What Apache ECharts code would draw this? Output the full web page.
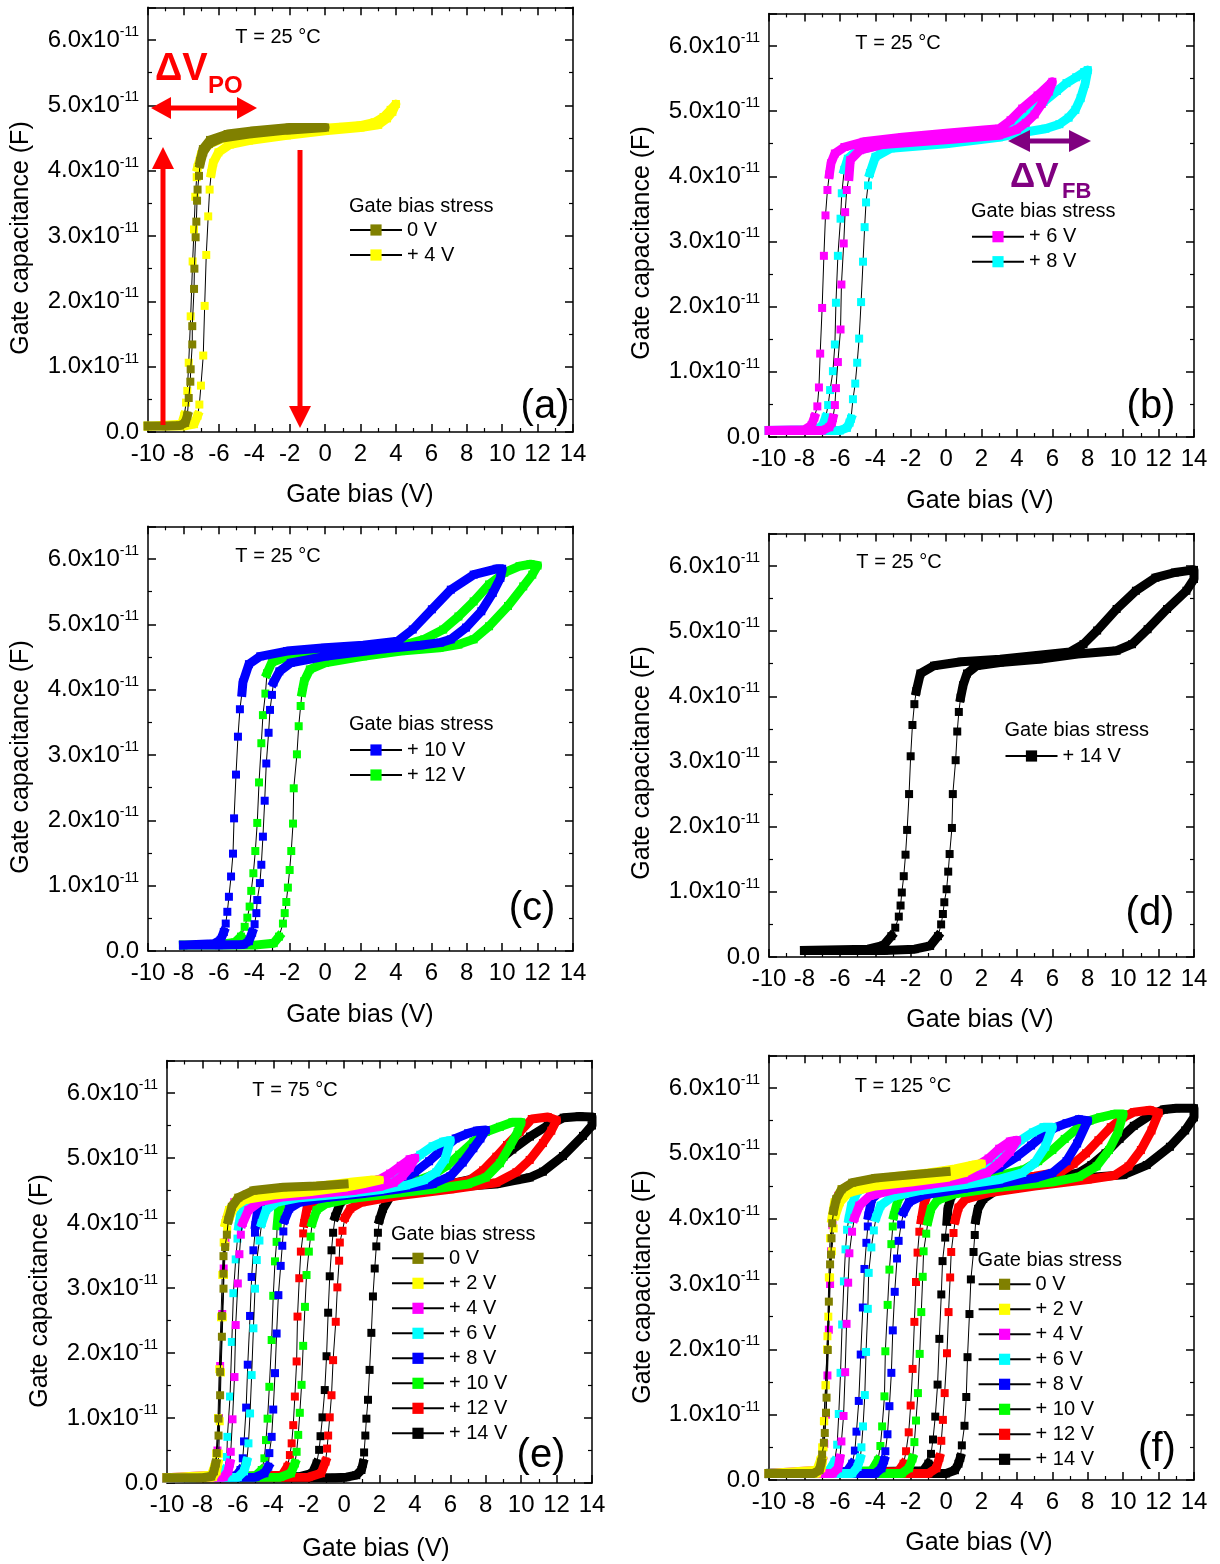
<!DOCTYPE html>
<html>
<head>
<meta charset="utf-8">
<script src="https://cdn.jsdelivr.net/npm/echarts@6/dist/echarts.min.js"></script>
<style>html,body{margin:0;padding:0;background:#fff}#chart{width:1220px;height:1564px}</style>
</head>
<body>
<div id="chart"></div>
<script>
// gate capacitance in units of 1e-11 F, gate bias in V ; each loop = sweep up then back
var a_0V = [[-10,0.09],[-9,0.09],[-8.2,0.1],[-7.9,0.14],[-7.78,0.25],[-7.7,0.52],[-7.61,0.77],[-7.59,0.96],[-7.5,1.34],[-7.5,1.62],[-7.4,2.19],[-7.38,2.5],[-7.31,2.98],[-7.27,3.22],[-7.23,3.54],[-7.2,3.71],[-7.12,3.92],[-7.05,4.11],[-6.88,4.28],[-6.56,4.41],[-5.81,4.5],[-4.3,4.56],[-2.15,4.62],[0,4.66],[-2,4.66],[-4,4.61],[-5.5,4.56],[-6.5,4.47],[-6.9,4.33],[-7.05,4.15]];
var a_4V = [[-10,0.09],[-8,0.09],[-7.4,0.12],[-7.2,0.25],[-7.1,0.42],[-7.01,0.71],[-6.88,1.17],[-6.8,1.93],[-6.71,2.71],[-6.6,3.3],[-6.52,3.71],[-6.43,3.96],[-6.32,4.12],[-6.02,4.28],[-5.38,4.4],[-4.3,4.46],[-2.15,4.54],[0,4.61],[2,4.66],[3,4.7],[3.5,4.8],[3.8,4.9],[4,5.02],[3.7,4.93],[3.3,4.82],[2.8,4.74],[2,4.69],[1,4.67],[0,4.65],[-2,4.61],[-4,4.55],[-5.8,4.49],[-6.6,4.4],[-7.0,4.25],[-7.2,4.05],[-7.25,3.9],[-7.33,3.6],[-7.4,3.1],[-7.48,2.61],[-7.59,1.77],[-7.7,1.06],[-7.78,0.63],[-7.85,0.45],[-7.95,0.25],[-8.1,0.12],[-10,0.09]];

var b_6V = [[-10,0.1],[-7,0.1],[-6.6,0.15],[-6.45,0.22],[-6.39,0.29],[-6.28,0.49],[-6.22,0.75],[-6.11,1.15],[-5.96,1.65],[-5.91,2.34],[-5.78,2.97],[-5.7,3.45],[-5.61,3.79],[-5.48,4.0],[-5.41,4.25],[-4.87,4.4],[-3.56,4.49],[0,4.56],[2.99,4.63],[4,4.72],[4.5,4.82],[5,4.95],[5.4,5.11],[5.8,5.3],[6,5.45],[5.93,5.42],[5.17,5.24],[4.3,5.04],[3.64,4.86],[2.99,4.73],[2.12,4.71],[0,4.66],[-2.47,4.6],[-4.65,4.53],[-5.74,4.45],[-6.28,4.35],[-6.5,4.2],[-6.59,4.03],[-6.7,3.79],[-6.81,3.4],[-6.9,2.78],[-7.0,1.98],[-7.11,1.28],[-7.18,0.76],[-7.27,0.47],[-7.44,0.3],[-7.6,0.18],[-8,0.11],[-10,0.1]];
var b_8V = [[-10,0.1],[-6,0.1],[-5.6,0.14],[-5.45,0.22],[-5.37,0.28],[-5.26,0.58],[-5.13,0.82],[-5.02,1.14],[-4.91,1.51],[-4.8,2.07],[-4.69,2.69],[-4.6,3.22],[-4.52,3.6],[-4.41,3.86],[-4.3,4.05],[-3.99,4.3],[-3.12,4.43],[0,4.5],[2.99,4.6],[4.08,4.66],[5.61,4.73],[6.4,4.8],[6.92,4.9],[7.3,5.02],[7.6,5.2],[7.85,5.42],[8,5.63],[7.8,5.6],[7.35,5.52],[6.8,5.43],[6.26,5.31],[5.5,5.14],[4.8,4.98],[4.2,4.83],[3.5,4.72],[2.5,4.66],[0,4.58],[-3.5,4.49],[-5,4.4],[-5.55,4.27],[-5.75,4.1],[-5.89,3.74],[-5.96,3.35],[-6.11,2.78],[-6.22,2.06],[-6.28,1.42],[-6.39,1.01],[-6.55,0.72],[-6.66,0.49],[-6.8,0.3],[-7,0.16],[-7.5,0.11],[-10,0.1]];

var c_10V = [[-8,0.09],[-6,0.09],[-4.6,0.1],[-4.3,0.15],[-4.12,0.28],[-3.98,0.41],[-3.88,0.58],[-3.83,0.78],[-3.68,1.04],[-3.6,1.32],[-3.51,1.75],[-3.41,2.3],[-3.32,2.87],[-3.19,3.34],[-3.11,3.69],[-3.0,3.92],[-2.91,4.11],[-2.58,4.28],[-1.94,4.41],[0,4.51],[3.23,4.62],[5.38,4.68],[6.5,4.72],[7.1,4.77],[7.96,4.95],[8.82,5.2],[9.47,5.48],[9.9,5.71],[10,5.85],[9.69,5.85],[8.39,5.76],[7.1,5.53],[6.03,5.23],[4.95,4.92],[4.09,4.74],[2.15,4.68],[0,4.64],[-2.15,4.59],[-3.66,4.51],[-4.3,4.39],[-4.64,4.11],[-4.69,3.96],[-4.81,3.7],[-4.92,3.28],[-5.03,2.7],[-5.14,2.03],[-5.2,1.49],[-5.31,1.14],[-5.43,0.83],[-5.52,0.6],[-5.61,0.42],[-5.72,0.29],[-5.9,0.17],[-6.3,0.11],[-8,0.09]];
var c_12V = [[-8,0.09],[-4,0.09],[-2.9,0.12],[-2.6,0.22],[-2.38,0.42],[-2.28,0.58],[-2.19,0.75],[-2.1,0.97],[-2.0,1.24],[-1.91,1.53],[-1.81,1.95],[-1.77,2.49],[-1.59,3.01],[-1.49,3.44],[-1.38,3.75],[-1.3,3.96],[-1.18,4.13],[-0.86,4.31],[0,4.41],[2.15,4.51],[4.3,4.59],[6.46,4.64],[7.53,4.69],[8.39,4.77],[9.26,4.97],[10.33,5.28],[11.19,5.58],[11.7,5.76],[12,5.9],[11.6,5.92],[10.98,5.89],[10.12,5.79],[9.26,5.61],[8.39,5.35],[7.53,5.12],[6.67,4.92],[5.6,4.77],[4.52,4.69],[2,4.63],[0,4.58],[-2,4.52],[-3,4.42],[-3.28,4.25],[-3.37,3.94],[-3.51,3.61],[-3.6,3.18],[-3.73,2.58],[-3.83,1.96],[-3.94,1.53],[-4.05,1.19],[-4.17,0.92],[-4.26,0.68],[-4.39,0.51],[-4.54,0.37],[-4.75,0.22],[-5.1,0.13],[-6,0.1],[-8,0.09]];

var d_14V = [[-8,0.1],[-3.5,0.1],[-1.78,0.12],[-0.9,0.17],[-0.46,0.32],[-0.28,0.5],[-0.18,0.66],[-0.1,0.84],[0.03,1.04],[0.12,1.31],[0.2,1.58],[0.33,1.98],[0.38,2.5],[0.54,3.02],[0.63,3.46],[0.72,3.76],[0.82,3.98],[0.96,4.17],[1.18,4.35],[1.73,4.47],[3.05,4.52],[5.24,4.57],[7.43,4.65],[9.63,4.7],[10.5,4.8],[11.38,5.03],[12.48,5.34],[13.57,5.62],[14,5.8],[14,5.94],[12.92,5.9],[11.82,5.82],[10.72,5.62],[9.63,5.34],[8.53,5.01],[7.76,4.8],[7.0,4.68],[5.24,4.63],[3.05,4.57],[0.86,4.53],[-0.68,4.47],[-1.45,4.35],[-1.68,4.08],[-1.79,3.88],[-1.9,3.56],[-2.0,3.08],[-2.09,2.5],[-2.2,1.95],[-2.29,1.57],[-2.39,1.24],[-2.5,0.99],[-2.57,0.79],[-2.67,0.62],[-2.87,0.45],[-3.09,0.32],[-3.53,0.18],[-4.41,0.12],[-8,0.1]];

var e_0V = [[-10,0.08],[-8,0.08],[-7.5,0.1],[-7.35,0.18],[-7.25,0.3],[-7.19,0.46],[-7.09,0.73],[-7.09,0.99],[-7.0,1.35],[-7.0,1.71],[-6.9,2.25],[-6.9,2.57],[-6.81,2.99],[-6.81,3.22],[-6.81,3.49],[-6.72,3.63],[-6.62,3.82],[-6.53,4.05],[-6.34,4.25],[-5.97,4.39],[-5.12,4.5],[-3.43,4.55],[-1.56,4.57],[0,4.6]];
var e_2V = [[-10,0.08],[-7.4,0.09],[-7.2,0.18],[-7.12,0.3],[-7.08,0.45],[-7.02,0.95],[-6.95,1.7],[-6.85,2.55],[-6.78,3.2],[-6.7,3.65],[-6.6,3.9],[-6.45,4.1],[-6.2,4.25],[-5.6,4.36],[-4,4.43],[-2,4.48],[0,4.55],[1,4.6],[2,4.66],[1.5,4.66],[0.5,4.63],[-1,4.58],[-3,4.53],[-5,4.47],[-6,4.38],[-6.5,4.2],[-6.7,4.0],[-6.8,3.7],[-6.88,3.2],[-6.95,2.55],[-7.05,1.75],[-7.12,1.0],[-7.22,0.45],[-7.32,0.25],[-7.5,0.12],[-10,0.08]];
var e_4V = [[-10,0.08],[-6.8,0.09],[-6.55,0.18],[-6.45,0.3],[-6.4,0.48],[-6.3,0.98],[-6.19,1.63],[-6.12,2.43],[-6.0,3.07],[-5.91,3.52],[-5.83,3.82],[-5.72,4.0],[-5.4,4.2],[-4.75,4.33],[-3.5,4.4],[-1.5,4.45],[0.5,4.5],[2,4.56],[2.8,4.62],[3.3,4.72],[3.7,4.85],[4,5.0],[3.7,4.98],[3.2,4.88],[2.6,4.76],[2,4.67],[1,4.61],[0,4.58],[-2,4.54],[-4,4.5],[-5.5,4.44],[-6.2,4.32],[-6.55,4.12],[-6.7,3.7],[-6.8,3.3],[-6.88,2.6],[-7.0,1.8],[-7.07,1.0],[-7.15,0.5],[-7.25,0.28],[-7.45,0.12],[-10,0.08]];
var e_6V = [[-10,0.08],[-6,0.09],[-5.65,0.18],[-5.5,0.33],[-5.4,0.61],[-5.31,1.07],[-5.22,1.66],[-5.12,2.38],[-5.03,2.99],[-4.93,3.43],[-4.78,3.73],[-4.65,4.0],[-4.4,4.2],[-3.8,4.32],[-2.5,4.39],[0,4.45],[2,4.51],[3.5,4.58],[4.5,4.66],[5.2,4.78],[5.7,4.98],[6,5.27],[5.6,5.25],[5,5.18],[4.3,5.05],[3.7,4.9],[3,4.75],[2.3,4.65],[1,4.58],[-1,4.53],[-3,4.48],[-4.5,4.43],[-5.4,4.33],[-5.85,4.12],[-5.95,3.95],[-6.02,3.76],[-6.12,3.44],[-6.25,2.92],[-6.34,2.17],[-6.44,1.33],[-6.59,0.71],[-6.62,0.4],[-6.75,0.2],[-7,0.11],[-10,0.08]];
var e_8V = [[-10,0.08],[-5,0.09],[-4.5,0.15],[-4.28,0.25],[-4.22,0.46],[-4.09,0.71],[-4.0,1.13],[-3.9,1.69],[-3.81,2.3],[-3.71,2.89],[-3.58,3.34],[-3.49,3.65],[-3.43,3.87],[-3.35,4.05],[-3.1,4.22],[-2.5,4.32],[-1,4.39],[1,4.45],[3,4.52],[5,4.6],[6,4.72],[6.7,4.93],[7.3,5.15],[7.7,5.3],[8,5.43],[7.5,5.42],[7,5.38],[6.3,5.3],[5.5,5.12],[4.8,4.95],[4,4.78],[3.2,4.66],[2,4.59],[0,4.53],[-2,4.48],[-3.5,4.43],[-4.5,4.35],[-4.9,4.15],[-5.0,3.97],[-5.03,3.85],[-5.12,3.58],[-5.22,3.17],[-5.31,2.57],[-5.44,1.82],[-5.53,1.16],[-5.65,0.64],[-5.72,0.38],[-5.85,0.2],[-6.1,0.11],[-10,0.08]];
var e_10V = [[-10,0.08],[-3.6,0.09],[-3.0,0.15],[-2.78,0.3],[-2.68,0.48],[-2.59,0.74],[-2.5,1.08],[-2.4,1.51],[-2.31,2.11],[-2.21,2.71],[-2.12,3.2],[-1.99,3.56],[-1.89,3.79],[-1.8,4.0],[-1.55,4.2],[-1,4.3],[0.5,4.38],[3,4.46],[5,4.52],[7,4.6],[8,4.7],[8.8,4.92],[9.4,5.2],[9.8,5.4],[10,5.55],[9.5,5.55],[8.8,5.48],[8,5.4],[7.3,5.25],[6.5,5.05],[5.8,4.88],[5,4.74],[4,4.64],[2,4.56],[0,4.5],[-2,4.44],[-3.3,4.36],[-3.7,4.2],[-3.78,3.96],[-3.81,3.71],[-3.9,3.41],[-4.0,2.88],[-4.09,2.2],[-4.22,1.48],[-4.32,0.99],[-4.41,0.66],[-4.5,0.38],[-4.65,0.2],[-5,0.11],[-10,0.08]];
var e_12V = [[-10,0.08],[-2,0.09],[-1.3,0.15],[-1.05,0.33],[-0.96,0.53],[-0.9,0.73],[-0.81,1.01],[-0.71,1.35],[-0.62,1.89],[-0.47,2.48],[-0.38,3.01],[-0.28,3.42],[-0.24,3.7],[-0.09,3.88],[0.05,4.08],[0.35,4.22],[1,4.32],[3,4.42],[6,4.52],[8.6,4.62],[9.73,4.78],[10.48,4.97],[11.23,5.23],[11.7,5.42],[12,5.58],[11.5,5.63],[10.6,5.6],[9.92,5.4],[9.2,5.2],[8.6,5.02],[7.85,4.81],[7.1,4.66],[6,4.6],[4,4.54],[2,4.49],[0,4.44],[-1.5,4.38],[-2.1,4.22],[-2.25,4.0],[-2.31,3.84],[-2.44,3.56],[-2.53,3.15],[-2.63,2.56],[-2.68,1.87],[-2.78,1.33],[-2.87,0.89],[-2.96,0.61],[-3.06,0.43],[-3.2,0.25],[-3.5,0.12],[-10,0.08]];
var e_14V = [[-10,0.08],[-0.5,0.08],[0.13,0.09],[0.69,0.12],[0.98,0.2],[1.07,0.3],[1.13,0.47],[1.2,0.73],[1.26,0.99],[1.35,1.28],[1.44,1.74],[1.54,2.31],[1.63,2.87],[1.73,3.3],[1.82,3.64],[1.91,3.85],[2.0,4.05],[2.2,4.22],[2.59,4.4],[3.5,4.48],[6,4.55],[8.6,4.6],[9.73,4.66],[10.48,4.7],[11.23,4.79],[12.36,5.03],[13.49,5.34],[14,5.5],[14,5.63],[13.3,5.64],[12.4,5.62],[11.5,5.5],[10.5,5.33],[9.5,5.13],[9,5.02],[8,4.79],[7.3,4.68],[6,4.6],[4,4.54],[2,4.48],[0.5,4.43],[-0.2,4.32],[-0.5,4.1],[-0.62,3.85],[-0.71,3.58],[-0.81,3.18],[-0.9,2.62],[-0.99,1.95],[-1.09,1.43],[-1.22,1.01],[-1.33,0.72],[-1.41,0.51],[-1.55,0.3],[-1.8,0.15],[-2.5,0.1],[-10,0.08]];

var f_0V = [[-10,0.1],[-7.5,0.1],[-7.15,0.15],[-7.05,0.27],[-7.0,0.39],[-6.9,0.57],[-6.85,0.72],[-6.78,1.03],[-6.75,1.26],[-6.68,1.99],[-6.62,2.73],[-6.55,3.3],[-6.5,3.45],[-6.47,3.7],[-6.43,3.93],[-6.35,4.12],[-6.2,4.3],[-5.9,4.45],[-5.3,4.55],[-4,4.62],[-2,4.67],[0,4.72]];
var f_2V = [[-10,0.1],[-7.3,0.1],[-7.05,0.18],[-6.98,0.3],[-6.92,0.5],[-6.88,0.9],[-6.8,1.45],[-6.72,2.0],[-6.65,2.5],[-6.55,3.1],[-6.45,3.5],[-6.35,3.85],[-6.25,4.05],[-6.0,4.25],[-5.5,4.4],[-4,4.5],[-2,4.56],[0,4.63],[1,4.7],[2,4.84],[1.5,4.82],[0.5,4.76],[-1,4.7],[-3,4.64],[-5,4.56],[-5.9,4.45],[-6.3,4.25],[-6.45,4.0],[-6.55,3.7],[-6.62,3.1],[-6.7,2.2],[-6.8,1.45],[-6.9,0.9],[-7.0,0.5],[-7.1,0.3],[-7.3,0.15],[-10,0.1]];
var f_4V = [[-10,0.1],[-6.4,0.1],[-6.1,0.18],[-6.0,0.33],[-5.91,0.59],[-5.79,0.98],[-5.7,1.65],[-5.62,2.39],[-5.53,3.02],[-5.46,3.47],[-5.31,3.8],[-5.17,4.01],[-4.9,4.2],[-4.3,4.35],[-3,4.44],[-1,4.52],[1,4.6],[2.3,4.7],[3,4.85],[3.6,5.02],[4,5.2],[3.6,5.18],[3,5.07],[2.4,4.92],[1.8,4.82],[1,4.76],[0,4.72],[-2,4.66],[-4,4.6],[-5.5,4.5],[-6.1,4.35],[-6.35,4.1],[-6.42,3.9],[-6.5,3.5],[-6.55,3.0],[-6.62,2.3],[-6.7,1.6],[-6.78,1.0],[-6.88,0.55],[-7.0,0.3],[-7.2,0.15],[-10,0.1]];
var f_6V = [[-10,0.1],[-5.3,0.1],[-5.0,0.2],[-4.85,0.33],[-4.78,0.5],[-4.69,0.82],[-4.59,1.3],[-4.52,1.96],[-4.42,2.62],[-4.37,3.17],[-4.22,3.56],[-4.08,3.82],[-3.95,4.02],[-3.7,4.2],[-3,4.34],[-1.5,4.43],[1,4.52],[3,4.6],[4.3,4.7],[5,4.85],[5.6,5.1],[6,5.4],[5.5,5.4],[4.9,5.32],[4.2,5.2],[3.5,5.02],[2.8,4.86],[2,4.74],[0,4.66],[-2,4.6],[-4,4.53],[-5,4.42],[-5.35,4.2],[-5.49,4.0],[-5.59,3.83],[-5.68,3.53],[-5.77,3.04],[-5.87,2.38],[-5.96,1.64],[-6.06,1.01],[-6.15,0.54],[-6.3,0.28],[-6.6,0.14],[-10,0.1]];
var f_8V = [[-10,0.1],[-4,0.1],[-3.65,0.18],[-3.5,0.3],[-3.43,0.44],[-3.31,0.7],[-3.2,1.13],[-3.09,1.64],[-3.01,2.29],[-2.9,2.88],[-2.77,3.39],[-2.68,3.66],[-2.54,3.91],[-2.4,4.1],[-2.1,4.25],[-1.3,4.36],[1,4.46],[3,4.54],[5,4.62],[6,4.7],[6.8,4.88],[7.4,5.15],[8,5.5],[7.5,5.52],[6.8,5.46],[6.2,5.4],[5.5,5.28],[4.8,5.12],[4,4.95],[3,4.78],[2,4.7],[0,4.62],[-2,4.55],[-3.5,4.47],[-4.2,4.3],[-4.38,4.05],[-4.42,3.88],[-4.5,3.63],[-4.61,3.23],[-4.7,2.64],[-4.82,1.92],[-4.93,1.21],[-5.06,0.74],[-5.15,0.45],[-5.3,0.25],[-5.6,0.13],[-10,0.1]];
var f_10V = [[-10,0.1],[-2.5,0.1],[-2.1,0.18],[-1.9,0.33],[-1.79,0.58],[-1.7,0.91],[-1.59,1.33],[-1.49,1.93],[-1.4,2.57],[-1.32,3.11],[-1.27,3.5],[-1.12,3.77],[-1.02,3.96],[-0.85,4.15],[-0.5,4.28],[0.5,4.38],[3,4.48],[6,4.56],[7.5,4.64],[8.5,4.8],[9.2,5.05],[9.7,5.32],[10,5.6],[9.5,5.6],[8.7,5.55],[8.1,5.5],[7.4,5.38],[6.7,5.22],[6,5.05],[5.2,4.88],[4.4,4.75],[3,4.66],[0,4.58],[-2,4.5],[-2.7,4.3],[-2.95,4.05],[-3.01,3.88],[-3.09,3.61],[-3.2,3.22],[-3.3,2.68],[-3.43,1.97],[-3.48,1.28],[-3.61,0.82],[-3.71,0.52],[-3.85,0.3],[-4.2,0.14],[-10,0.1]];
var f_12V = [[-10,0.1],[-1,0.1],[-0.55,0.18],[-0.38,0.34],[-0.27,0.6],[-0.18,0.92],[-0.08,1.33],[0.05,1.94],[0.14,2.57],[0.23,3.1],[0.29,3.49],[0.42,3.78],[0.52,3.98],[0.7,4.17],[1.1,4.3],[2.5,4.4],[5,4.5],[8,4.6],[9.5,4.66],[10.3,4.8],[11,5.05],[11.6,5.35],[12,5.62],[11.5,5.66],[10.6,5.63],[10,5.55],[9.3,5.4],[8.6,5.2],[7.9,5.0],[7.2,4.84],[6.5,4.72],[5,4.65],[2,4.56],[0,4.5],[-1,4.42],[-1.25,4.22],[-1.4,3.98],[-1.51,3.8],[-1.61,3.48],[-1.7,3.03],[-1.79,2.42],[-1.89,1.7],[-2.0,1.14],[-2.11,0.73],[-2.26,0.44],[-2.4,0.25],[-2.7,0.13],[-10,0.1]];
var f_14V = [[-10,0.1],[0,0.1],[0.5,0.15],[0.7,0.25],[0.8,0.34],[0.89,0.53],[1.04,0.83],[1.14,1.27],[1.21,1.88],[1.32,2.54],[1.4,3.07],[1.55,3.49],[1.62,3.75],[1.68,3.98],[1.8,4.15],[2.1,4.3],[3.26,4.51],[5.7,4.6],[8,4.63],[10.01,4.67],[11.33,4.82],[12.64,5.1],[13.5,5.35],[14,5.55],[14,5.69],[13,5.69],[12.3,5.67],[11.5,5.58],[10.6,5.42],[9.8,5.22],[9,5.0],[8.2,4.82],[7.5,4.7],[5.5,4.6],[3,4.53],[1,4.46],[0.3,4.35],[0.1,4.15],[0.05,3.96],[-0.05,3.71],[-0.2,3.35],[-0.27,2.84],[-0.38,2.16],[-0.48,1.46],[-0.61,0.97],[-0.74,0.62],[-0.85,0.4],[-1.0,0.25],[-1.3,0.14],[-10,0.1]];

var FONT = '"Liberation Sans", Arial, Helvetica, sans-serif';
var OLIVE = '#808000', YELLOW = '#ffff00', MAGENTA = '#ff00ff', CYAN = '#00ffff',
    BLUE = '#0000ff', GREEN = '#00ff00', RED = '#ff0000', BLACK = '#000000', PURPLE = '#800080';
var fullSet = [OLIVE, YELLOW, MAGENTA, CYAN, BLUE, GREEN, RED, BLACK];

var panels = [
  {grid:{left:148, top:7.3, width:425, height:424.7}, loops:[['0 V',a_0V],['+ 4 V',a_4V]], colors:[OLIVE, YELLOW],
   leg:[349,220], legTitle:[349,206], temp:['T = 25 °C',278,37], tag:['(a)',545,407], yname:[21,238], xname:[360,495]},
  {grid:{left:769, top:13.4, width:425, height:423.6}, loops:[['+ 6 V',b_6V],['+ 8 V',b_8V]], colors:[MAGENTA, CYAN],
   leg:[971,226.7], legTitle:[971,211], temp:['T = 25 °C',898,43], tag:['(b)',1151,407], yname:[642,243], xname:[980,501]},
  {grid:{left:148, top:526.3, width:425, height:424.7}, loops:[['+ 10 V',c_10V],['+ 12 V',c_12V]], colors:[BLUE, GREEN],
   leg:[349,740], legTitle:[349,724], temp:['T = 25 °C',278,556], tag:['(c)',532,909], yname:[21,757], xname:[360,1015]},
  {grid:{left:769, top:533.4, width:425, height:423.6}, loops:[['+ 14 V',d_14V]], colors:[BLACK],
   leg:[1004.5,746], legTitle:[1004.5,730], temp:['T = 25 °C',899,562], tag:['(d)',1150,914], yname:[642,763], xname:[980,1020]},
  {grid:{left:167, top:1060.5, width:425, height:422.5}, colors: fullSet,
   loops:[['0 V',e_0V],['+ 2 V',e_2V],['+ 4 V',e_4V],['+ 6 V',e_6V],['+ 8 V',e_8V],['+ 10 V',e_10V],['+ 12 V',e_12V],['+ 14 V',e_14V]],
   leg:[391,1248.3], legTitle:[391,1234], temp:['T = 75 °C',295,1090], tag:['(e)',541,1456], yname:[40,1291], xname:[376,1549]},
  {grid:{left:769, top:1055.3, width:425, height:424.7}, colors: fullSet,
   loops:[['0 V',f_0V],['+ 2 V',f_2V],['+ 4 V',f_4V],['+ 6 V',f_6V],['+ 8 V',f_8V],['+ 10 V',f_10V],['+ 12 V',f_12V],['+ 14 V',f_14V]],
   leg:[977.6,1274.3], legTitle:[977.6,1260.5], temp:['T = 125 °C',903,1086], tag:['(f)',1157,1450], yname:[643,1287], xname:[979,1543]}
];

function bandOf(pts) {
  // dense parts of a sweep merge into a solid stripe of markers
  return pts.map(function (p) { return (p[1] > 0.35 && p[1] < 3.95) ? [p[0], '-'] : p; });
}

function xAx(gi, pos) {
  return {
    type: 'value', gridIndex: gi, position: pos, min: -10, max: 14, interval: 2,
    axisLine: {show: true, onZero: false, lineStyle: {color: '#000', width: 1.5}},
    axisTick: {show: true, inside: true, length: 8, lineStyle: {color: '#000', width: 1.5}},
    minorTick: {show: true, splitNumber: 2, length: 4, lineStyle: {color: '#000', width: 1.2}},
    axisLabel: {show: pos === 'bottom', margin: 10, fontSize: 24, fontFamily: FONT, color: '#000'},
    splitLine: {show: false}, minorSplitLine: {show: false}
  };
}
function yAx(gi, pos) {
  return {
    type: 'value', gridIndex: gi, position: pos, min: 0, max: 6.5, interval: 1,
    axisLine: {show: true, onZero: false, lineStyle: {color: '#000', width: 1.5}},
    axisTick: {show: true, inside: true, length: 8, lineStyle: {color: '#000', width: 1.5}},
    minorTick: {show: true, splitNumber: 2, length: 4, lineStyle: {color: '#000', width: 1.2}},
    axisLabel: {
      show: pos === 'left', margin: 9, showMaxLabel: false,
      formatter: function (v) {
        if (Math.abs(v - Math.round(v)) > 1e-6) return '';
        if (v === 0) return '{m|0.0}';
        return '{m|' + v.toFixed(1) + 'x10}{s|-11}';
      },
      rich: {
        m: {fontSize: 24, fontFamily: FONT, color: '#000', lineHeight: 30},
        s: {fontSize: 14, fontFamily: FONT, color: '#000', lineHeight: 14, verticalAlign: 'top'}
      }
    },
    splitLine: {show: false}, minorSplitLine: {show: false}
  };
}

var grids = [], xAxes = [], yAxes = [], series = [], legends = [], graphics = [];

panels.forEach(function (p, gi) {
  grids.push(p.grid);
  xAxes.push(xAx(gi, 'bottom'), xAx(gi, 'top'));
  yAxes.push(yAx(gi, 'left'), yAx(gi, 'right'));
  var n = p.loops.length;
  var tagged = [];
  p.loops.forEach(function (lp, i) {
    var c = p.colors[i];
    var z = 2 + 2 * (n - i);
    // invisible suffix keeps names unique per panel, so each legend picks its own colour
    var nm = lp[0] + new Array(gi + 1).join('\u200b');
    tagged.push(nm);
    series.push({
      type: 'line', name: nm, xAxisIndex: 2 * gi, yAxisIndex: 2 * gi, data: lp[1],
      symbol: 'rect', symbolSize: 8, showAllSymbol: true, z: z, silent: true, animation: false,
      itemStyle: {color: c, opacity: 1}, lineStyle: {color: '#000', width: 1}
    });
    series.push({
      type: 'line', name: '_band', xAxisIndex: 2 * gi, yAxisIndex: 2 * gi, data: bandOf(lp[1]),
      symbol: 'none', connectNulls: false, z: z + 1, silent: true, animation: false,
      lineStyle: {color: c, width: 9, cap: 'square', join: 'round'}
    });
  });
  legends.push({
    data: tagged,
    orient: 'vertical', left: p.leg[0], top: p.leg[1], padding: 0,
    itemWidth: 52, itemHeight: 14, itemGap: 5, selectedMode: false,
    textStyle: {fontSize: 20, lineHeight: 20, fontFamily: FONT, color: '#000'}
  });
  graphics.push(
    {type: 'text', x: p.legTitle[0], y: p.legTitle[1], z: 100,
     style: {text: 'Gate bias stress', fontSize: 20, fontFamily: FONT, fill: '#000', align: 'left', verticalAlign: 'middle'}},
    {type: 'text', x: p.temp[1], y: p.temp[2], z: 100,
     style: {text: p.temp[0], fontSize: 20, fontFamily: FONT, fill: '#000', align: 'center', verticalAlign: 'middle'}},
    {type: 'text', x: p.tag[1], y: p.tag[2], z: 100,
     style: {text: p.tag[0], fontSize: 40, fontFamily: FONT, fill: '#000', align: 'center', verticalAlign: 'middle'}},
    {type: 'text', x: p.yname[0], y: p.yname[1], rotation: Math.PI / 2, z: 100,
     style: {text: 'Gate capacitance (F)', fontSize: 25, fontFamily: FONT, fill: '#000', align: 'center', verticalAlign: 'middle'}},
    {type: 'text', x: p.xname[0], y: p.xname[1], z: 100,
     style: {text: 'Gate bias (V)', fontSize: 25, fontFamily: FONT, fill: '#000', align: 'center', verticalAlign: 'middle'}}
  );
});

// annotation arrows
function shaft(x1, y1, x2, y2, col) {
  return {type: 'line', z: 100, shape: {x1: x1, y1: y1, x2: x2, y2: y2}, style: {stroke: col, lineWidth: 5}};
}
function head(pts, col) {
  return {type: 'polygon', z: 100, shape: {points: pts}, style: {fill: col}};
}
graphics.push(
  shaft(168, 108, 240, 108, RED), head([[151, 108], [171, 97], [171, 119]], RED), head([[257, 108], [237, 97], [237, 119]], RED),
  shaft(163, 166, 163, 425, RED), head([[163, 147], [152, 169], [174, 169]], RED),
  shaft(300, 150, 300, 410, RED), head([[300, 428], [289, 406], [311, 406]], RED),
  shaft(1027, 141, 1072, 141, PURPLE), head([[1008, 141], [1030, 130], [1030, 152]], PURPLE), head([[1091, 141], [1069, 130], [1069, 152]], PURPLE),
  {type: 'text', x: 155, y: 70, z: 100, style: {text: 'ΔV', fontSize: 38, fontWeight: 'bold', fontFamily: FONT, fill: RED, align: 'left', verticalAlign: 'middle'}},
  {type: 'text', x: 208, y: 86, z: 100, style: {text: 'PO', fontSize: 24, fontWeight: 'bold', fontFamily: FONT, fill: RED, align: 'left', verticalAlign: 'middle'}},
  {type: 'text', x: 1010, y: 177, z: 100, style: {text: 'ΔV', fontSize: 35, fontWeight: 'bold', fontFamily: FONT, fill: PURPLE, align: 'left', verticalAlign: 'middle'}},
  {type: 'text', x: 1062, y: 192, z: 100, style: {text: 'FB', fontSize: 22, fontWeight: 'bold', fontFamily: FONT, fill: PURPLE, align: 'left', verticalAlign: 'middle'}}
);

var dom = document.getElementById('chart');
var myChart = echarts.init(dom, null, {renderer: 'canvas'});
var option = {
  backgroundColor: '#fff',
  animation: false,
  grid: grids,
  xAxis: xAxes,
  yAxis: yAxes,
  legend: legends,
  series: series,
  graphic: graphics
};
myChart.setOption(option, true);
</script>
</body>
</html>
